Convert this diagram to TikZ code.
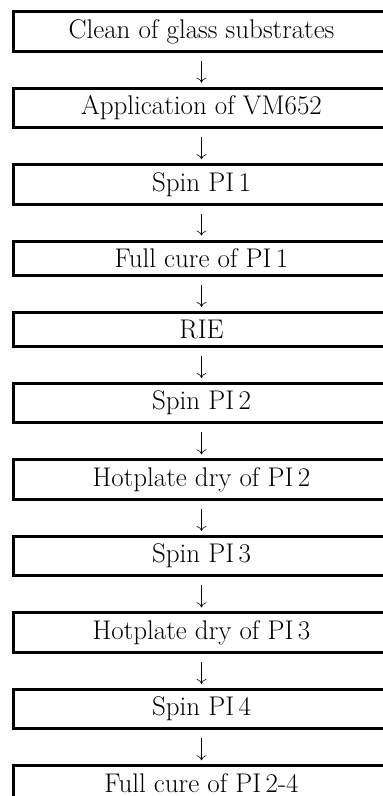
\documentclass[tikz,border=0pt]{standalone}
\usetikzlibrary{arrows.meta,positioning}

\begin{document}
\begin{tikzpicture}[
    x=1pt, y=1pt,
    node distance=34pt,
    stepbox/.style={draw, line width=3pt, minimum width=376pt,
      inner xsep=4pt, inner ysep=7.6pt, align=center,
      font=\fontsize{27}{31}\selectfont},
    flowarrow/.style={line width=0.6pt, -{To[length=5pt, width=10pt]},
      shorten <=8pt, shorten >=4pt},
  ]

  \useasboundingbox (0,0) rectangle (383,-796);
  \clip (0,0) rectangle (383,-796);

  % Process steps
  \node[stepbox, anchor=north west] (clean) at (12,-10)
    {Clean of glass substrates};
  \node[stepbox, below=of clean] (vm) {Application of VM652};
  \node[stepbox, below=of vm] (spinA) {Spin PI\,1};
  \node[stepbox, below=of spinA] (cureA) {Full cure of PI\,1};
  \node[stepbox, below=of cureA] (rie) {RIE};
  \node[stepbox, below=of rie] (spinB) {Spin PI\,2};
  \node[stepbox, below=of spinB] (dryB) {Hotplate dry of PI\,2};
  \node[stepbox, below=of dryB] (spinC) {Spin PI\,3};
  \node[stepbox, below=of spinC] (dryC) {Hotplate dry of PI\,3};
  \node[stepbox, below=of dryC] (spinD) {Spin PI\,4};
  \node[stepbox, below=of spinD] (cureB) {Full cure of PI\,2-4};

  % Arrows between steps
  \draw[flowarrow] (clean) -- (vm);
  \draw[flowarrow] (vm) -- (spinA);
  \draw[flowarrow] (spinA) -- (cureA);
  \draw[flowarrow] (cureA) -- (rie);
  \draw[flowarrow] (rie) -- (spinB);
  \draw[flowarrow] (spinB) -- (dryB);
  \draw[flowarrow] (dryB) -- (spinC);
  \draw[flowarrow] (spinC) -- (dryC);
  \draw[flowarrow] (dryC) -- (spinD);
  \draw[flowarrow] (spinD) -- (cureB);

\end{tikzpicture}
\end{document}
